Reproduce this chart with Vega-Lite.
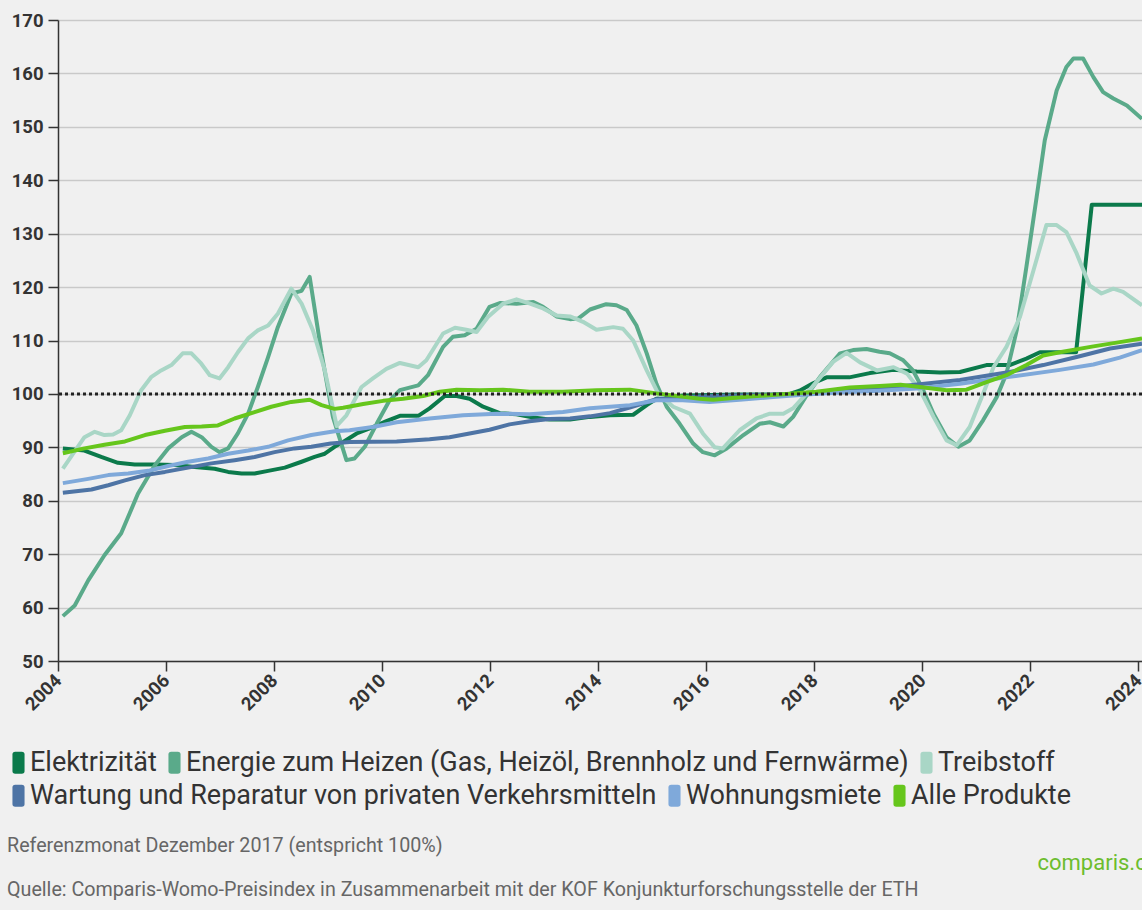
{
  "$schema": "https://vega.github.io/schema/vega-lite/v6.json",
  "width": 1084,
  "height": 641,
  "autosize": "none",
  "padding": {"left": 58, "top": 20, "right": 0, "bottom": 249},
  "background": "#f0f0f0",
  "config": {
    "view": {"stroke": null},
    "font": "Roboto",
    "legend": {
      "orient": "none",
      "direction": "horizontal",
      "labelFont": "Roboto",
      "labelFontSize": 27,
      "labelColor": "#333333",
      "labelLimit": 0,
      "symbolType": "M-0.55,-0.75 Q-0.55,-1 -0.3,-1 L0.3,-1 Q0.55,-1 0.55,-0.75 L0.55,0.75 Q0.55,1 0.3,1 L-0.3,1 Q-0.55,1 -0.55,0.75 Z",
      "symbolSize": 484,
      "symbolStrokeWidth": 0,
      "labelOffset": -2,
      "columnPadding": 4,
      "title": null
    }
  },
  "title": {
    "text": "Referenzmonat Dezember 2017 (entspricht 100%)",
    "subtitle": "Quelle: Comparis-Womo-Preisindex in Zusammenarbeit mit der KOF Konjunkturforschungsstelle der ETH",
    "orient": "bottom",
    "anchor": "start",
    "frame": "bounds",
    "font": "Roboto",
    "fontSize": 19.7,
    "fontWeight": "normal",
    "color": "#666666",
    "subtitleFont": "Roboto",
    "subtitleFontSize": 19.7,
    "subtitleColor": "#666666",
    "subtitlePadding": 24,
    "offset": 10,
    "dx": 2,
    "dy": -47
  },
  "data": {
    "values": [
      {"Jahr": 2004.09, "Kategorie": "Elektrizität", "Index": 89.8},
      {"Jahr": 2004.49, "Kategorie": "Elektrizität", "Index": 89.4},
      {"Jahr": 2004.80, "Kategorie": "Elektrizität", "Index": 88.2},
      {"Jahr": 2005.11, "Kategorie": "Elektrizität", "Index": 87.1},
      {"Jahr": 2005.42, "Kategorie": "Elektrizität", "Index": 86.8},
      {"Jahr": 2005.79, "Kategorie": "Elektrizität", "Index": 86.8},
      {"Jahr": 2006.16, "Kategorie": "Elektrizität", "Index": 86.7},
      {"Jahr": 2006.53, "Kategorie": "Elektrizität", "Index": 86.3},
      {"Jahr": 2006.90, "Kategorie": "Elektrizität", "Index": 86.0},
      {"Jahr": 2007.15, "Kategorie": "Elektrizität", "Index": 85.4},
      {"Jahr": 2007.40, "Kategorie": "Elektrizität", "Index": 85.1},
      {"Jahr": 2007.64, "Kategorie": "Elektrizität", "Index": 85.1},
      {"Jahr": 2007.89, "Kategorie": "Elektrizität", "Index": 85.6},
      {"Jahr": 2008.20, "Kategorie": "Elektrizität", "Index": 86.2},
      {"Jahr": 2008.51, "Kategorie": "Elektrizität", "Index": 87.3},
      {"Jahr": 2008.75, "Kategorie": "Elektrizität", "Index": 88.2},
      {"Jahr": 2008.94, "Kategorie": "Elektrizität", "Index": 88.8},
      {"Jahr": 2009.12, "Kategorie": "Elektrizität", "Index": 90.1},
      {"Jahr": 2009.28, "Kategorie": "Elektrizität", "Index": 91.0},
      {"Jahr": 2009.53, "Kategorie": "Elektrizität", "Index": 92.6},
      {"Jahr": 2009.83, "Kategorie": "Elektrizität", "Index": 93.8},
      {"Jahr": 2010.08, "Kategorie": "Elektrizität", "Index": 94.9},
      {"Jahr": 2010.33, "Kategorie": "Elektrizität", "Index": 95.9},
      {"Jahr": 2010.67, "Kategorie": "Elektrizität", "Index": 95.9},
      {"Jahr": 2010.88, "Kategorie": "Elektrizität", "Index": 97.3},
      {"Jahr": 2011.16, "Kategorie": "Elektrizität", "Index": 99.6},
      {"Jahr": 2011.38, "Kategorie": "Elektrizität", "Index": 99.6},
      {"Jahr": 2011.62, "Kategorie": "Elektrizität", "Index": 99.1},
      {"Jahr": 2011.87, "Kategorie": "Elektrizität", "Index": 97.6},
      {"Jahr": 2012.18, "Kategorie": "Elektrizität", "Index": 96.4},
      {"Jahr": 2012.49, "Kategorie": "Elektrizität", "Index": 96.2},
      {"Jahr": 2012.80, "Kategorie": "Elektrizität", "Index": 95.6},
      {"Jahr": 2013.10, "Kategorie": "Elektrizität", "Index": 95.2},
      {"Jahr": 2013.48, "Kategorie": "Elektrizität", "Index": 95.2},
      {"Jahr": 2013.85, "Kategorie": "Elektrizität", "Index": 95.7},
      {"Jahr": 2014.22, "Kategorie": "Elektrizität", "Index": 96.0},
      {"Jahr": 2014.65, "Kategorie": "Elektrizität", "Index": 96.1},
      {"Jahr": 2014.90, "Kategorie": "Elektrizität", "Index": 97.9},
      {"Jahr": 2015.08, "Kategorie": "Elektrizität", "Index": 99.1},
      {"Jahr": 2015.57, "Kategorie": "Elektrizität", "Index": 99.7},
      {"Jahr": 2016.10, "Kategorie": "Elektrizität", "Index": 99.8},
      {"Jahr": 2016.60, "Kategorie": "Elektrizität", "Index": 99.9},
      {"Jahr": 2017.20, "Kategorie": "Elektrizität", "Index": 99.9},
      {"Jahr": 2017.55, "Kategorie": "Elektrizität", "Index": 100.0},
      {"Jahr": 2017.73, "Kategorie": "Elektrizität", "Index": 100.6},
      {"Jahr": 2017.98, "Kategorie": "Elektrizität", "Index": 102.0},
      {"Jahr": 2018.23, "Kategorie": "Elektrizität", "Index": 103.1},
      {"Jahr": 2018.65, "Kategorie": "Elektrizität", "Index": 103.1},
      {"Jahr": 2019.03, "Kategorie": "Elektrizität", "Index": 103.9},
      {"Jahr": 2019.47, "Kategorie": "Elektrizität", "Index": 104.5},
      {"Jahr": 2019.90, "Kategorie": "Elektrizität", "Index": 104.2},
      {"Jahr": 2020.33, "Kategorie": "Elektrizität", "Index": 104.0},
      {"Jahr": 2020.70, "Kategorie": "Elektrizität", "Index": 104.1},
      {"Jahr": 2021.19, "Kategorie": "Elektrizität", "Index": 105.4},
      {"Jahr": 2021.62, "Kategorie": "Elektrizität", "Index": 105.4},
      {"Jahr": 2021.93, "Kategorie": "Elektrizität", "Index": 106.6},
      {"Jahr": 2022.18, "Kategorie": "Elektrizität", "Index": 107.8},
      {"Jahr": 2022.85, "Kategorie": "Elektrizität", "Index": 107.8},
      {"Jahr": 2023.14, "Kategorie": "Elektrizität", "Index": 135.4},
      {"Jahr": 2024.10, "Kategorie": "Elektrizität", "Index": 135.4},

      {"Jahr": 2004.09, "Kategorie": "Energie zum Heizen (Gas, Heizöl, Brennholz und Fernwärme)", "Index": 58.4},
      {"Jahr": 2004.31, "Kategorie": "Energie zum Heizen (Gas, Heizöl, Brennholz und Fernwärme)", "Index": 60.4},
      {"Jahr": 2004.56, "Kategorie": "Energie zum Heizen (Gas, Heizöl, Brennholz und Fernwärme)", "Index": 65.1},
      {"Jahr": 2004.86, "Kategorie": "Energie zum Heizen (Gas, Heizöl, Brennholz und Fernwärme)", "Index": 69.8},
      {"Jahr": 2005.17, "Kategorie": "Energie zum Heizen (Gas, Heizöl, Brennholz und Fernwärme)", "Index": 73.9},
      {"Jahr": 2005.48, "Kategorie": "Energie zum Heizen (Gas, Heizöl, Brennholz und Fernwärme)", "Index": 81.3},
      {"Jahr": 2005.79, "Kategorie": "Energie zum Heizen (Gas, Heizöl, Brennholz und Fernwärme)", "Index": 86.6},
      {"Jahr": 2006.04, "Kategorie": "Energie zum Heizen (Gas, Heizöl, Brennholz und Fernwärme)", "Index": 89.8},
      {"Jahr": 2006.29, "Kategorie": "Energie zum Heizen (Gas, Heizöl, Brennholz und Fernwärme)", "Index": 91.9},
      {"Jahr": 2006.47, "Kategorie": "Energie zum Heizen (Gas, Heizöl, Brennholz und Fernwärme)", "Index": 92.9},
      {"Jahr": 2006.66, "Kategorie": "Energie zum Heizen (Gas, Heizöl, Brennholz und Fernwärme)", "Index": 91.9},
      {"Jahr": 2006.84, "Kategorie": "Energie zum Heizen (Gas, Heizöl, Brennholz und Fernwärme)", "Index": 90.1},
      {"Jahr": 2006.99, "Kategorie": "Energie zum Heizen (Gas, Heizöl, Brennholz und Fernwärme)", "Index": 89.1},
      {"Jahr": 2007.15, "Kategorie": "Energie zum Heizen (Gas, Heizöl, Brennholz und Fernwärme)", "Index": 89.8},
      {"Jahr": 2007.33, "Kategorie": "Energie zum Heizen (Gas, Heizöl, Brennholz und Fernwärme)", "Index": 92.6},
      {"Jahr": 2007.52, "Kategorie": "Energie zum Heizen (Gas, Heizöl, Brennholz und Fernwärme)", "Index": 96.3},
      {"Jahr": 2007.70, "Kategorie": "Energie zum Heizen (Gas, Heizöl, Brennholz und Fernwärme)", "Index": 101.3},
      {"Jahr": 2007.89, "Kategorie": "Energie zum Heizen (Gas, Heizöl, Brennholz und Fernwärme)", "Index": 106.9},
      {"Jahr": 2008.07, "Kategorie": "Energie zum Heizen (Gas, Heizöl, Brennholz und Fernwärme)", "Index": 112.5},
      {"Jahr": 2008.32, "Kategorie": "Energie zum Heizen (Gas, Heizöl, Brennholz und Fernwärme)", "Index": 118.8},
      {"Jahr": 2008.51, "Kategorie": "Energie zum Heizen (Gas, Heizöl, Brennholz und Fernwärme)", "Index": 119.3},
      {"Jahr": 2008.66, "Kategorie": "Energie zum Heizen (Gas, Heizöl, Brennholz und Fernwärme)", "Index": 121.9},
      {"Jahr": 2008.88, "Kategorie": "Energie zum Heizen (Gas, Heizöl, Brennholz und Fernwärme)", "Index": 107.6},
      {"Jahr": 2009.09, "Kategorie": "Energie zum Heizen (Gas, Heizöl, Brennholz und Fernwärme)", "Index": 95.7},
      {"Jahr": 2009.34, "Kategorie": "Energie zum Heizen (Gas, Heizöl, Brennholz und Fernwärme)", "Index": 87.6},
      {"Jahr": 2009.49, "Kategorie": "Energie zum Heizen (Gas, Heizöl, Brennholz und Fernwärme)", "Index": 87.9},
      {"Jahr": 2009.68, "Kategorie": "Energie zum Heizen (Gas, Heizöl, Brennholz und Fernwärme)", "Index": 90.1},
      {"Jahr": 2009.90, "Kategorie": "Energie zum Heizen (Gas, Heizöl, Brennholz und Fernwärme)", "Index": 94.4},
      {"Jahr": 2010.14, "Kategorie": "Energie zum Heizen (Gas, Heizöl, Brennholz und Fernwärme)", "Index": 98.8},
      {"Jahr": 2010.33, "Kategorie": "Energie zum Heizen (Gas, Heizöl, Brennholz und Fernwärme)", "Index": 100.7},
      {"Jahr": 2010.67, "Kategorie": "Energie zum Heizen (Gas, Heizöl, Brennholz und Fernwärme)", "Index": 101.6},
      {"Jahr": 2010.85, "Kategorie": "Energie zum Heizen (Gas, Heizöl, Brennholz und Fernwärme)", "Index": 103.5},
      {"Jahr": 2011.13, "Kategorie": "Energie zum Heizen (Gas, Heizöl, Brennholz und Fernwärme)", "Index": 108.8},
      {"Jahr": 2011.31, "Kategorie": "Energie zum Heizen (Gas, Heizöl, Brennholz und Fernwärme)", "Index": 110.7},
      {"Jahr": 2011.53, "Kategorie": "Energie zum Heizen (Gas, Heizöl, Brennholz und Fernwärme)", "Index": 111.0},
      {"Jahr": 2011.75, "Kategorie": "Energie zum Heizen (Gas, Heizöl, Brennholz und Fernwärme)", "Index": 112.2},
      {"Jahr": 2011.99, "Kategorie": "Energie zum Heizen (Gas, Heizöl, Brennholz und Fernwärme)", "Index": 116.3},
      {"Jahr": 2012.18, "Kategorie": "Energie zum Heizen (Gas, Heizöl, Brennholz und Fernwärme)", "Index": 117.0},
      {"Jahr": 2012.49, "Kategorie": "Energie zum Heizen (Gas, Heizöl, Brennholz und Fernwärme)", "Index": 116.9},
      {"Jahr": 2012.80, "Kategorie": "Energie zum Heizen (Gas, Heizöl, Brennholz und Fernwärme)", "Index": 117.2},
      {"Jahr": 2012.98, "Kategorie": "Energie zum Heizen (Gas, Heizöl, Brennholz und Fernwärme)", "Index": 116.3},
      {"Jahr": 2013.23, "Kategorie": "Energie zum Heizen (Gas, Heizöl, Brennholz und Fernwärme)", "Index": 114.5},
      {"Jahr": 2013.48, "Kategorie": "Energie zum Heizen (Gas, Heizöl, Brennholz und Fernwärme)", "Index": 114.0},
      {"Jahr": 2013.63, "Kategorie": "Energie zum Heizen (Gas, Heizöl, Brennholz und Fernwärme)", "Index": 114.1},
      {"Jahr": 2013.85, "Kategorie": "Energie zum Heizen (Gas, Heizöl, Brennholz und Fernwärme)", "Index": 115.8},
      {"Jahr": 2014.15, "Kategorie": "Energie zum Heizen (Gas, Heizöl, Brennholz und Fernwärme)", "Index": 116.8},
      {"Jahr": 2014.34, "Kategorie": "Energie zum Heizen (Gas, Heizöl, Brennholz und Fernwärme)", "Index": 116.6},
      {"Jahr": 2014.53, "Kategorie": "Energie zum Heizen (Gas, Heizöl, Brennholz und Fernwärme)", "Index": 115.7},
      {"Jahr": 2014.71, "Kategorie": "Energie zum Heizen (Gas, Heizöl, Brennholz und Fernwärme)", "Index": 112.8},
      {"Jahr": 2014.90, "Kategorie": "Energie zum Heizen (Gas, Heizöl, Brennholz und Fernwärme)", "Index": 107.6},
      {"Jahr": 2015.08, "Kategorie": "Energie zum Heizen (Gas, Heizöl, Brennholz und Fernwärme)", "Index": 101.9},
      {"Jahr": 2015.27, "Kategorie": "Energie zum Heizen (Gas, Heizöl, Brennholz und Fernwärme)", "Index": 97.6},
      {"Jahr": 2015.51, "Kategorie": "Energie zum Heizen (Gas, Heizöl, Brennholz und Fernwärme)", "Index": 94.4},
      {"Jahr": 2015.76, "Kategorie": "Energie zum Heizen (Gas, Heizöl, Brennholz und Fernwärme)", "Index": 90.7},
      {"Jahr": 2015.94, "Kategorie": "Energie zum Heizen (Gas, Heizöl, Brennholz und Fernwärme)", "Index": 89.1},
      {"Jahr": 2016.16, "Kategorie": "Energie zum Heizen (Gas, Heizöl, Brennholz und Fernwärme)", "Index": 88.5},
      {"Jahr": 2016.38, "Kategorie": "Energie zum Heizen (Gas, Heizöl, Brennholz und Fernwärme)", "Index": 89.8},
      {"Jahr": 2016.69, "Kategorie": "Energie zum Heizen (Gas, Heizöl, Brennholz und Fernwärme)", "Index": 92.3},
      {"Jahr": 2016.99, "Kategorie": "Energie zum Heizen (Gas, Heizöl, Brennholz und Fernwärme)", "Index": 94.4},
      {"Jahr": 2017.18, "Kategorie": "Energie zum Heizen (Gas, Heizöl, Brennholz und Fernwärme)", "Index": 94.7},
      {"Jahr": 2017.43, "Kategorie": "Energie zum Heizen (Gas, Heizöl, Brennholz und Fernwärme)", "Index": 93.9},
      {"Jahr": 2017.61, "Kategorie": "Energie zum Heizen (Gas, Heizöl, Brennholz und Fernwärme)", "Index": 95.7},
      {"Jahr": 2017.86, "Kategorie": "Energie zum Heizen (Gas, Heizöl, Brennholz und Fernwärme)", "Index": 99.7},
      {"Jahr": 2018.11, "Kategorie": "Energie zum Heizen (Gas, Heizöl, Brennholz und Fernwärme)", "Index": 103.2},
      {"Jahr": 2018.48, "Kategorie": "Energie zum Heizen (Gas, Heizöl, Brennholz und Fernwärme)", "Index": 107.6},
      {"Jahr": 2018.72, "Kategorie": "Energie zum Heizen (Gas, Heizöl, Brennholz und Fernwärme)", "Index": 108.2},
      {"Jahr": 2018.97, "Kategorie": "Energie zum Heizen (Gas, Heizöl, Brennholz und Fernwärme)", "Index": 108.4},
      {"Jahr": 2019.21, "Kategorie": "Energie zum Heizen (Gas, Heizöl, Brennholz und Fernwärme)", "Index": 107.9},
      {"Jahr": 2019.40, "Kategorie": "Energie zum Heizen (Gas, Heizöl, Brennholz und Fernwärme)", "Index": 107.6},
      {"Jahr": 2019.65, "Kategorie": "Energie zum Heizen (Gas, Heizöl, Brennholz und Fernwärme)", "Index": 106.3},
      {"Jahr": 2019.83, "Kategorie": "Energie zum Heizen (Gas, Heizöl, Brennholz und Fernwärme)", "Index": 104.4},
      {"Jahr": 2020.02, "Kategorie": "Energie zum Heizen (Gas, Heizöl, Brennholz und Fernwärme)", "Index": 100.7},
      {"Jahr": 2020.21, "Kategorie": "Energie zum Heizen (Gas, Heizöl, Brennholz und Fernwärme)", "Index": 96.3},
      {"Jahr": 2020.45, "Kategorie": "Energie zum Heizen (Gas, Heizöl, Brennholz und Fernwärme)", "Index": 91.9},
      {"Jahr": 2020.67, "Kategorie": "Energie zum Heizen (Gas, Heizöl, Brennholz und Fernwärme)", "Index": 90.1},
      {"Jahr": 2020.88, "Kategorie": "Energie zum Heizen (Gas, Heizöl, Brennholz und Fernwärme)", "Index": 91.3},
      {"Jahr": 2021.13, "Kategorie": "Energie zum Heizen (Gas, Heizöl, Brennholz und Fernwärme)", "Index": 95.1},
      {"Jahr": 2021.38, "Kategorie": "Energie zum Heizen (Gas, Heizöl, Brennholz und Fernwärme)", "Index": 99.4},
      {"Jahr": 2021.56, "Kategorie": "Energie zum Heizen (Gas, Heizöl, Brennholz und Fernwärme)", "Index": 103.8},
      {"Jahr": 2021.75, "Kategorie": "Energie zum Heizen (Gas, Heizöl, Brennholz und Fernwärme)", "Index": 111.9},
      {"Jahr": 2021.93, "Kategorie": "Energie zum Heizen (Gas, Heizöl, Brennholz und Fernwärme)", "Index": 123.8},
      {"Jahr": 2022.12, "Kategorie": "Energie zum Heizen (Gas, Heizöl, Brennholz und Fernwärme)", "Index": 136.9},
      {"Jahr": 2022.27, "Kategorie": "Energie zum Heizen (Gas, Heizöl, Brennholz und Fernwärme)", "Index": 147.5},
      {"Jahr": 2022.49, "Kategorie": "Energie zum Heizen (Gas, Heizöl, Brennholz und Fernwärme)", "Index": 156.8},
      {"Jahr": 2022.67, "Kategorie": "Energie zum Heizen (Gas, Heizöl, Brennholz und Fernwärme)", "Index": 161.2},
      {"Jahr": 2022.80, "Kategorie": "Energie zum Heizen (Gas, Heizöl, Brennholz und Fernwärme)", "Index": 162.8},
      {"Jahr": 2022.98, "Kategorie": "Energie zum Heizen (Gas, Heizöl, Brennholz und Fernwärme)", "Index": 162.8},
      {"Jahr": 2023.17, "Kategorie": "Energie zum Heizen (Gas, Heizöl, Brennholz und Fernwärme)", "Index": 159.3},
      {"Jahr": 2023.35, "Kategorie": "Energie zum Heizen (Gas, Heizöl, Brennholz und Fernwärme)", "Index": 156.5},
      {"Jahr": 2023.54, "Kategorie": "Energie zum Heizen (Gas, Heizöl, Brennholz und Fernwärme)", "Index": 155.3},
      {"Jahr": 2023.79, "Kategorie": "Energie zum Heizen (Gas, Heizöl, Brennholz und Fernwärme)", "Index": 154.0},
      {"Jahr": 2024.07, "Kategorie": "Energie zum Heizen (Gas, Heizöl, Brennholz und Fernwärme)", "Index": 151.5},

      {"Jahr": 2004.09, "Kategorie": "Treibstoff", "Index": 86.0},
      {"Jahr": 2004.49, "Kategorie": "Treibstoff", "Index": 91.9},
      {"Jahr": 2004.68, "Kategorie": "Treibstoff", "Index": 92.9},
      {"Jahr": 2004.86, "Kategorie": "Treibstoff", "Index": 92.3},
      {"Jahr": 2005.02, "Kategorie": "Treibstoff", "Index": 92.4},
      {"Jahr": 2005.17, "Kategorie": "Treibstoff", "Index": 93.2},
      {"Jahr": 2005.33, "Kategorie": "Treibstoff", "Index": 96.0},
      {"Jahr": 2005.54, "Kategorie": "Treibstoff", "Index": 100.7},
      {"Jahr": 2005.73, "Kategorie": "Treibstoff", "Index": 103.2},
      {"Jahr": 2005.91, "Kategorie": "Treibstoff", "Index": 104.4},
      {"Jahr": 2006.10, "Kategorie": "Treibstoff", "Index": 105.4},
      {"Jahr": 2006.31, "Kategorie": "Treibstoff", "Index": 107.6},
      {"Jahr": 2006.47, "Kategorie": "Treibstoff", "Index": 107.6},
      {"Jahr": 2006.65, "Kategorie": "Treibstoff", "Index": 105.7},
      {"Jahr": 2006.81, "Kategorie": "Treibstoff", "Index": 103.5},
      {"Jahr": 2006.99, "Kategorie": "Treibstoff", "Index": 102.9},
      {"Jahr": 2007.15, "Kategorie": "Treibstoff", "Index": 105.0},
      {"Jahr": 2007.33, "Kategorie": "Treibstoff", "Index": 107.8},
      {"Jahr": 2007.52, "Kategorie": "Treibstoff", "Index": 110.4},
      {"Jahr": 2007.70, "Kategorie": "Treibstoff", "Index": 111.9},
      {"Jahr": 2007.89, "Kategorie": "Treibstoff", "Index": 112.8},
      {"Jahr": 2008.07, "Kategorie": "Treibstoff", "Index": 115.0},
      {"Jahr": 2008.32, "Kategorie": "Treibstoff", "Index": 119.7},
      {"Jahr": 2008.51, "Kategorie": "Treibstoff", "Index": 116.9},
      {"Jahr": 2008.72, "Kategorie": "Treibstoff", "Index": 111.9},
      {"Jahr": 2008.94, "Kategorie": "Treibstoff", "Index": 104.4},
      {"Jahr": 2009.16, "Kategorie": "Treibstoff", "Index": 94.0},
      {"Jahr": 2009.34, "Kategorie": "Treibstoff", "Index": 96.0},
      {"Jahr": 2009.62, "Kategorie": "Treibstoff", "Index": 101.3},
      {"Jahr": 2009.83, "Kategorie": "Treibstoff", "Index": 102.9},
      {"Jahr": 2010.08, "Kategorie": "Treibstoff", "Index": 104.7},
      {"Jahr": 2010.33, "Kategorie": "Treibstoff", "Index": 105.8},
      {"Jahr": 2010.67, "Kategorie": "Treibstoff", "Index": 105.0},
      {"Jahr": 2010.82, "Kategorie": "Treibstoff", "Index": 106.3},
      {"Jahr": 2011.13, "Kategorie": "Treibstoff", "Index": 111.3},
      {"Jahr": 2011.35, "Kategorie": "Treibstoff", "Index": 112.4},
      {"Jahr": 2011.56, "Kategorie": "Treibstoff", "Index": 112.0},
      {"Jahr": 2011.75, "Kategorie": "Treibstoff", "Index": 111.6},
      {"Jahr": 2011.96, "Kategorie": "Treibstoff", "Index": 114.4},
      {"Jahr": 2012.24, "Kategorie": "Treibstoff", "Index": 116.9},
      {"Jahr": 2012.49, "Kategorie": "Treibstoff", "Index": 117.7},
      {"Jahr": 2012.74, "Kategorie": "Treibstoff", "Index": 116.9},
      {"Jahr": 2012.98, "Kategorie": "Treibstoff", "Index": 116.0},
      {"Jahr": 2013.23, "Kategorie": "Treibstoff", "Index": 114.7},
      {"Jahr": 2013.48, "Kategorie": "Treibstoff", "Index": 114.5},
      {"Jahr": 2013.72, "Kategorie": "Treibstoff", "Index": 113.5},
      {"Jahr": 2013.97, "Kategorie": "Treibstoff", "Index": 112.0},
      {"Jahr": 2014.28, "Kategorie": "Treibstoff", "Index": 112.5},
      {"Jahr": 2014.46, "Kategorie": "Treibstoff", "Index": 112.2},
      {"Jahr": 2014.65, "Kategorie": "Treibstoff", "Index": 110.0},
      {"Jahr": 2014.90, "Kategorie": "Treibstoff", "Index": 104.4},
      {"Jahr": 2015.11, "Kategorie": "Treibstoff", "Index": 100.1},
      {"Jahr": 2015.39, "Kategorie": "Treibstoff", "Index": 97.6},
      {"Jahr": 2015.70, "Kategorie": "Treibstoff", "Index": 96.3},
      {"Jahr": 2015.94, "Kategorie": "Treibstoff", "Index": 92.6},
      {"Jahr": 2016.16, "Kategorie": "Treibstoff", "Index": 90.0},
      {"Jahr": 2016.31, "Kategorie": "Treibstoff", "Index": 89.8},
      {"Jahr": 2016.62, "Kategorie": "Treibstoff", "Index": 93.2},
      {"Jahr": 2016.93, "Kategorie": "Treibstoff", "Index": 95.4},
      {"Jahr": 2017.18, "Kategorie": "Treibstoff", "Index": 96.3},
      {"Jahr": 2017.43, "Kategorie": "Treibstoff", "Index": 96.3},
      {"Jahr": 2017.61, "Kategorie": "Treibstoff", "Index": 97.3},
      {"Jahr": 2017.80, "Kategorie": "Treibstoff", "Index": 99.4},
      {"Jahr": 2018.04, "Kategorie": "Treibstoff", "Index": 102.2},
      {"Jahr": 2018.35, "Kategorie": "Treibstoff", "Index": 106.0},
      {"Jahr": 2018.60, "Kategorie": "Treibstoff", "Index": 107.7},
      {"Jahr": 2018.85, "Kategorie": "Treibstoff", "Index": 105.9},
      {"Jahr": 2019.16, "Kategorie": "Treibstoff", "Index": 104.4},
      {"Jahr": 2019.47, "Kategorie": "Treibstoff", "Index": 105.0},
      {"Jahr": 2019.72, "Kategorie": "Treibstoff", "Index": 103.8},
      {"Jahr": 2019.96, "Kategorie": "Treibstoff", "Index": 100.7},
      {"Jahr": 2020.21, "Kategorie": "Treibstoff", "Index": 95.7},
      {"Jahr": 2020.45, "Kategorie": "Treibstoff", "Index": 91.3},
      {"Jahr": 2020.64, "Kategorie": "Treibstoff", "Index": 90.4},
      {"Jahr": 2020.88, "Kategorie": "Treibstoff", "Index": 93.8},
      {"Jahr": 2021.13, "Kategorie": "Treibstoff", "Index": 100.1},
      {"Jahr": 2021.32, "Kategorie": "Treibstoff", "Index": 105.0},
      {"Jahr": 2021.56, "Kategorie": "Treibstoff", "Index": 108.8},
      {"Jahr": 2021.81, "Kategorie": "Treibstoff", "Index": 114.4},
      {"Jahr": 2022.06, "Kategorie": "Treibstoff", "Index": 123.1},
      {"Jahr": 2022.30, "Kategorie": "Treibstoff", "Index": 131.6},
      {"Jahr": 2022.49, "Kategorie": "Treibstoff", "Index": 131.6},
      {"Jahr": 2022.67, "Kategorie": "Treibstoff", "Index": 130.3},
      {"Jahr": 2022.86, "Kategorie": "Treibstoff", "Index": 126.3},
      {"Jahr": 2023.10, "Kategorie": "Treibstoff", "Index": 120.3},
      {"Jahr": 2023.32, "Kategorie": "Treibstoff", "Index": 118.8},
      {"Jahr": 2023.54, "Kategorie": "Treibstoff", "Index": 119.7},
      {"Jahr": 2023.72, "Kategorie": "Treibstoff", "Index": 119.1},
      {"Jahr": 2024.07, "Kategorie": "Treibstoff", "Index": 116.6},

      {"Jahr": 2004.09, "Kategorie": "Wartung und Reparatur von privaten Verkehrsmitteln", "Index": 81.5},
      {"Jahr": 2004.62, "Kategorie": "Wartung und Reparatur von privaten Verkehrsmitteln", "Index": 82.1},
      {"Jahr": 2004.93, "Kategorie": "Wartung und Reparatur von privaten Verkehrsmitteln", "Index": 82.9},
      {"Jahr": 2005.24, "Kategorie": "Wartung und Reparatur von privaten Verkehrsmitteln", "Index": 83.8},
      {"Jahr": 2005.61, "Kategorie": "Wartung und Reparatur von privaten Verkehrsmitteln", "Index": 84.8},
      {"Jahr": 2005.98, "Kategorie": "Wartung und Reparatur von privaten Verkehrsmitteln", "Index": 85.4},
      {"Jahr": 2006.41, "Kategorie": "Wartung und Reparatur von privaten Verkehrsmitteln", "Index": 86.2},
      {"Jahr": 2006.84, "Kategorie": "Wartung und Reparatur von privaten Verkehrsmitteln", "Index": 87.0},
      {"Jahr": 2007.27, "Kategorie": "Wartung und Reparatur von privaten Verkehrsmitteln", "Index": 87.6},
      {"Jahr": 2007.64, "Kategorie": "Wartung und Reparatur von privaten Verkehrsmitteln", "Index": 88.2},
      {"Jahr": 2008.01, "Kategorie": "Wartung und Reparatur von privaten Verkehrsmitteln", "Index": 89.1},
      {"Jahr": 2008.38, "Kategorie": "Wartung und Reparatur von privaten Verkehrsmitteln", "Index": 89.8},
      {"Jahr": 2008.69, "Kategorie": "Wartung und Reparatur von privaten Verkehrsmitteln", "Index": 90.1},
      {"Jahr": 2009.05, "Kategorie": "Wartung und Reparatur von privaten Verkehrsmitteln", "Index": 90.7},
      {"Jahr": 2009.40, "Kategorie": "Wartung und Reparatur von privaten Verkehrsmitteln", "Index": 91.0},
      {"Jahr": 2010.27, "Kategorie": "Wartung und Reparatur von privaten Verkehrsmitteln", "Index": 91.1},
      {"Jahr": 2010.88, "Kategorie": "Wartung und Reparatur von privaten Verkehrsmitteln", "Index": 91.5},
      {"Jahr": 2011.25, "Kategorie": "Wartung und Reparatur von privaten Verkehrsmitteln", "Index": 91.9},
      {"Jahr": 2011.62, "Kategorie": "Wartung und Reparatur von privaten Verkehrsmitteln", "Index": 92.6},
      {"Jahr": 2011.99, "Kategorie": "Wartung und Reparatur von privaten Verkehrsmitteln", "Index": 93.3},
      {"Jahr": 2012.36, "Kategorie": "Wartung und Reparatur von privaten Verkehrsmitteln", "Index": 94.3},
      {"Jahr": 2012.73, "Kategorie": "Wartung und Reparatur von privaten Verkehrsmitteln", "Index": 94.9},
      {"Jahr": 2013.10, "Kategorie": "Wartung und Reparatur von privaten Verkehrsmitteln", "Index": 95.3},
      {"Jahr": 2013.48, "Kategorie": "Wartung und Reparatur von privaten Verkehrsmitteln", "Index": 95.4},
      {"Jahr": 2013.85, "Kategorie": "Wartung und Reparatur von privaten Verkehrsmitteln", "Index": 95.8},
      {"Jahr": 2014.22, "Kategorie": "Wartung und Reparatur von privaten Verkehrsmitteln", "Index": 96.4},
      {"Jahr": 2014.60, "Kategorie": "Wartung und Reparatur von privaten Verkehrsmitteln", "Index": 97.5},
      {"Jahr": 2015.08, "Kategorie": "Wartung und Reparatur von privaten Verkehrsmitteln", "Index": 99.0},
      {"Jahr": 2015.88, "Kategorie": "Wartung und Reparatur von privaten Verkehrsmitteln", "Index": 99.5},
      {"Jahr": 2016.50, "Kategorie": "Wartung und Reparatur von privaten Verkehrsmitteln", "Index": 99.7},
      {"Jahr": 2017.20, "Kategorie": "Wartung und Reparatur von privaten Verkehrsmitteln", "Index": 99.8},
      {"Jahr": 2017.90, "Kategorie": "Wartung und Reparatur von privaten Verkehrsmitteln", "Index": 100.0},
      {"Jahr": 2018.35, "Kategorie": "Wartung und Reparatur von privaten Verkehrsmitteln", "Index": 100.4},
      {"Jahr": 2019.21, "Kategorie": "Wartung und Reparatur von privaten Verkehrsmitteln", "Index": 101.0},
      {"Jahr": 2019.47, "Kategorie": "Wartung und Reparatur von privaten Verkehrsmitteln", "Index": 101.3},
      {"Jahr": 2020.70, "Kategorie": "Wartung und Reparatur von privaten Verkehrsmitteln", "Index": 102.6},
      {"Jahr": 2021.62, "Kategorie": "Wartung und Reparatur von privaten Verkehrsmitteln", "Index": 104.1},
      {"Jahr": 2022.24, "Kategorie": "Wartung und Reparatur von privaten Verkehrsmitteln", "Index": 105.4},
      {"Jahr": 2022.86, "Kategorie": "Wartung und Reparatur von privaten Verkehrsmitteln", "Index": 106.9},
      {"Jahr": 2023.48, "Kategorie": "Wartung und Reparatur von privaten Verkehrsmitteln", "Index": 108.5},
      {"Jahr": 2024.07, "Kategorie": "Wartung und Reparatur von privaten Verkehrsmitteln", "Index": 109.4},

      {"Jahr": 2004.09, "Kategorie": "Wohnungsmiete", "Index": 83.3},
      {"Jahr": 2004.56, "Kategorie": "Wohnungsmiete", "Index": 84.1},
      {"Jahr": 2004.93, "Kategorie": "Wohnungsmiete", "Index": 84.8},
      {"Jahr": 2005.30, "Kategorie": "Wohnungsmiete", "Index": 85.1},
      {"Jahr": 2005.67, "Kategorie": "Wohnungsmiete", "Index": 85.6},
      {"Jahr": 2006.04, "Kategorie": "Wohnungsmiete", "Index": 86.5},
      {"Jahr": 2006.41, "Kategorie": "Wohnungsmiete", "Index": 87.3},
      {"Jahr": 2006.78, "Kategorie": "Wohnungsmiete", "Index": 87.9},
      {"Jahr": 2007.15, "Kategorie": "Wohnungsmiete", "Index": 88.8},
      {"Jahr": 2007.52, "Kategorie": "Wohnungsmiete", "Index": 89.4},
      {"Jahr": 2007.89, "Kategorie": "Wohnungsmiete", "Index": 90.1},
      {"Jahr": 2008.26, "Kategorie": "Wohnungsmiete", "Index": 91.3},
      {"Jahr": 2008.69, "Kategorie": "Wohnungsmiete", "Index": 92.3},
      {"Jahr": 2009.12, "Kategorie": "Wohnungsmiete", "Index": 93.0},
      {"Jahr": 2009.40, "Kategorie": "Wohnungsmiete", "Index": 93.2},
      {"Jahr": 2009.83, "Kategorie": "Wohnungsmiete", "Index": 93.8},
      {"Jahr": 2010.27, "Kategorie": "Wohnungsmiete", "Index": 94.7},
      {"Jahr": 2010.88, "Kategorie": "Wohnungsmiete", "Index": 95.4},
      {"Jahr": 2011.50, "Kategorie": "Wohnungsmiete", "Index": 96.0},
      {"Jahr": 2012.12, "Kategorie": "Wohnungsmiete", "Index": 96.3},
      {"Jahr": 2012.73, "Kategorie": "Wohnungsmiete", "Index": 96.2},
      {"Jahr": 2013.35, "Kategorie": "Wohnungsmiete", "Index": 96.6},
      {"Jahr": 2013.85, "Kategorie": "Wohnungsmiete", "Index": 97.3},
      {"Jahr": 2014.22, "Kategorie": "Wohnungsmiete", "Index": 97.6},
      {"Jahr": 2014.59, "Kategorie": "Wohnungsmiete", "Index": 97.9},
      {"Jahr": 2015.08, "Kategorie": "Wohnungsmiete", "Index": 98.8},
      {"Jahr": 2015.57, "Kategorie": "Wohnungsmiete", "Index": 98.8},
      {"Jahr": 2016.06, "Kategorie": "Wohnungsmiete", "Index": 98.5},
      {"Jahr": 2016.62, "Kategorie": "Wohnungsmiete", "Index": 98.9},
      {"Jahr": 2017.24, "Kategorie": "Wohnungsmiete", "Index": 99.4},
      {"Jahr": 2017.86, "Kategorie": "Wohnungsmiete", "Index": 99.9},
      {"Jahr": 2018.35, "Kategorie": "Wohnungsmiete", "Index": 100.2},
      {"Jahr": 2019.21, "Kategorie": "Wohnungsmiete", "Index": 100.6},
      {"Jahr": 2019.90, "Kategorie": "Wohnungsmiete", "Index": 101.0},
      {"Jahr": 2020.70, "Kategorie": "Wohnungsmiete", "Index": 101.9},
      {"Jahr": 2021.62, "Kategorie": "Wohnungsmiete", "Index": 103.2},
      {"Jahr": 2022.55, "Kategorie": "Wohnungsmiete", "Index": 104.5},
      {"Jahr": 2023.17, "Kategorie": "Wohnungsmiete", "Index": 105.5},
      {"Jahr": 2023.66, "Kategorie": "Wohnungsmiete", "Index": 106.8},
      {"Jahr": 2024.07, "Kategorie": "Wohnungsmiete", "Index": 108.2},

      {"Jahr": 2004.09, "Kategorie": "Alle Produkte", "Index": 88.9},
      {"Jahr": 2004.49, "Kategorie": "Alle Produkte", "Index": 89.8},
      {"Jahr": 2004.86, "Kategorie": "Alle Produkte", "Index": 90.5},
      {"Jahr": 2005.24, "Kategorie": "Alle Produkte", "Index": 91.1},
      {"Jahr": 2005.61, "Kategorie": "Alle Produkte", "Index": 92.3},
      {"Jahr": 2005.98, "Kategorie": "Alle Produkte", "Index": 93.1},
      {"Jahr": 2006.35, "Kategorie": "Alle Produkte", "Index": 93.8},
      {"Jahr": 2006.66, "Kategorie": "Alle Produkte", "Index": 93.9},
      {"Jahr": 2006.96, "Kategorie": "Alle Produkte", "Index": 94.1},
      {"Jahr": 2007.27, "Kategorie": "Alle Produkte", "Index": 95.4},
      {"Jahr": 2007.64, "Kategorie": "Alle Produkte", "Index": 96.6},
      {"Jahr": 2007.95, "Kategorie": "Alle Produkte", "Index": 97.6},
      {"Jahr": 2008.32, "Kategorie": "Alle Produkte", "Index": 98.5},
      {"Jahr": 2008.66, "Kategorie": "Alle Produkte", "Index": 98.9},
      {"Jahr": 2008.88, "Kategorie": "Alle Produkte", "Index": 97.9},
      {"Jahr": 2009.12, "Kategorie": "Alle Produkte", "Index": 97.2},
      {"Jahr": 2009.28, "Kategorie": "Alle Produkte", "Index": 97.4},
      {"Jahr": 2009.65, "Kategorie": "Alle Produkte", "Index": 98.1},
      {"Jahr": 2010.02, "Kategorie": "Alle Produkte", "Index": 98.7},
      {"Jahr": 2010.39, "Kategorie": "Alle Produkte", "Index": 99.1},
      {"Jahr": 2010.76, "Kategorie": "Alle Produkte", "Index": 99.6},
      {"Jahr": 2011.07, "Kategorie": "Alle Produkte", "Index": 100.4},
      {"Jahr": 2011.38, "Kategorie": "Alle Produkte", "Index": 100.8},
      {"Jahr": 2011.81, "Kategorie": "Alle Produkte", "Index": 100.7},
      {"Jahr": 2012.24, "Kategorie": "Alle Produkte", "Index": 100.8},
      {"Jahr": 2012.73, "Kategorie": "Alle Produkte", "Index": 100.4},
      {"Jahr": 2013.35, "Kategorie": "Alle Produkte", "Index": 100.4},
      {"Jahr": 2013.97, "Kategorie": "Alle Produkte", "Index": 100.7},
      {"Jahr": 2014.59, "Kategorie": "Alle Produkte", "Index": 100.8},
      {"Jahr": 2015.08, "Kategorie": "Alle Produkte", "Index": 100.1},
      {"Jahr": 2015.88, "Kategorie": "Alle Produkte", "Index": 99.1},
      {"Jahr": 2016.13, "Kategorie": "Alle Produkte", "Index": 98.9},
      {"Jahr": 2016.81, "Kategorie": "Alle Produkte", "Index": 99.5},
      {"Jahr": 2017.49, "Kategorie": "Alle Produkte", "Index": 100.0},
      {"Jahr": 2018.04, "Kategorie": "Alle Produkte", "Index": 100.4},
      {"Jahr": 2018.66, "Kategorie": "Alle Produkte", "Index": 101.2},
      {"Jahr": 2019.21, "Kategorie": "Alle Produkte", "Index": 101.5},
      {"Jahr": 2019.60, "Kategorie": "Alle Produkte", "Index": 101.7},
      {"Jahr": 2019.96, "Kategorie": "Alle Produkte", "Index": 101.3},
      {"Jahr": 2020.45, "Kategorie": "Alle Produkte", "Index": 100.7},
      {"Jahr": 2020.82, "Kategorie": "Alle Produkte", "Index": 100.8},
      {"Jahr": 2021.19, "Kategorie": "Alle Produkte", "Index": 102.2},
      {"Jahr": 2021.56, "Kategorie": "Alle Produkte", "Index": 103.5},
      {"Jahr": 2021.93, "Kategorie": "Alle Produkte", "Index": 105.4},
      {"Jahr": 2022.24, "Kategorie": "Alle Produkte", "Index": 107.2},
      {"Jahr": 2022.55, "Kategorie": "Alle Produkte", "Index": 107.8},
      {"Jahr": 2023.17, "Kategorie": "Alle Produkte", "Index": 108.9},
      {"Jahr": 2023.66, "Kategorie": "Alle Produkte", "Index": 109.7},
      {"Jahr": 2024.07, "Kategorie": "Alle Produkte", "Index": 110.4}
    ]
  },
  "encoding": {
    "x": {
      "field": "Jahr",
      "type": "quantitative",
      "scale": {"domain": [2004, 2024.07], "nice": false, "zero": false},
      "axis": {
        "values": [2004, 2006, 2008, 2010, 2012, 2014, 2016, 2018, 2020, 2022, 2024],
        "format": "d",
        "grid": false,
        "labelAngle": -45,
        "labelAlign": "right",
        "labelBaseline": "middle",
        "labelFont": "Roboto",
        "labelFontSize": 18.5,
        "labelFontWeight": "bold",
        "labelColor": "#333333",
        "labelPadding": 6,
        "labelOverlap": false,
        "labelBound": false,
        "tickSize": 10,
        "tickWidth": 1.5,
        "tickColor": "#333333",
        "domainColor": "#333333",
        "domainWidth": 1.5,
        "title": "comparis.ch",
        "titleFont": "Roboto",
        "titleFontSize": 22,
        "titleFontWeight": "normal",
        "titleColor": "#6cbd2e",
        "titleAlign": "left",
        "titleBaseline": "middle",
        "titleX": 979,
        "titleY": 201
      }
    },
    "y": {
      "field": "Index",
      "type": "quantitative",
      "scale": {"domain": [50, 170], "nice": false, "zero": false},
      "axis": {
        "values": [50, 60, 70, 80, 90, 100, 110, 120, 130, 140, 150, 160, 170],
        "title": null,
        "labelFont": "Roboto",
        "labelFontSize": 18.5,
        "labelFontWeight": "bold",
        "labelColor": "#333333",
        "labelPadding": 5,
        "tickSize": 10,
        "tickWidth": 1.5,
        "tickColor": "#333333",
        "domainColor": "#333333",
        "domainWidth": 1.5,
        "gridColor": "#c9c9c9",
        "gridWidth": 1.5
      }
    }
  },
  "layer": [
    {
      "transform": [{"filter": {"field": "Kategorie", "oneOf": ["Elektrizität", "Energie zum Heizen (Gas, Heizöl, Brennholz und Fernwärme)", "Treibstoff"]}}],
      "mark": {"type": "line", "strokeWidth": 4, "clip": true, "strokeJoin": "round"},
      "encoding": {
        "color": {
          "field": "Kategorie",
          "type": "nominal",
          "scale": {
            "domain": ["Elektrizität", "Energie zum Heizen (Gas, Heizöl, Brennholz und Fernwärme)", "Treibstoff"],
            "range": ["#0b7a4b", "#5aaa8a", "#a9d6c6"]
          },
          "legend": {
            "legendX": -53,
            "legendY": 729,
            "encode": {"symbols": {"update": {"fill": {"scale": "color", "field": "value"}, "strokeWidth": {"value": 0}}}}
          }
        }
      }
    },
    {
      "transform": [{"filter": {"field": "Kategorie", "oneOf": ["Wartung und Reparatur von privaten Verkehrsmitteln", "Wohnungsmiete", "Alle Produkte"]}}],
      "mark": {"type": "line", "strokeWidth": 4, "clip": true, "strokeJoin": "round"},
      "encoding": {
        "stroke": {
          "field": "Kategorie",
          "type": "nominal",
          "scale": {
            "domain": ["Wartung und Reparatur von privaten Verkehrsmitteln", "Wohnungsmiete", "Alle Produkte"],
            "range": ["#4e74a5", "#7fa9da", "#66c61c"]
          },
          "legend": {
            "legendX": -53,
            "legendY": 762,
            "encode": {"symbols": {"update": {"fill": {"scale": "stroke", "field": "value"}, "strokeWidth": {"value": 0}}}}
          }
        }
      }
    },
    {
      "data": {"values": [{"Referenz": 100}]},
      "mark": {"type": "rule", "strokeDash": [3, 3], "strokeWidth": 3, "color": "#222222"},
      "encoding": {
        "x": null,
        "y": {"field": "Referenz", "type": "quantitative"}
      }
    }
  ]
}
